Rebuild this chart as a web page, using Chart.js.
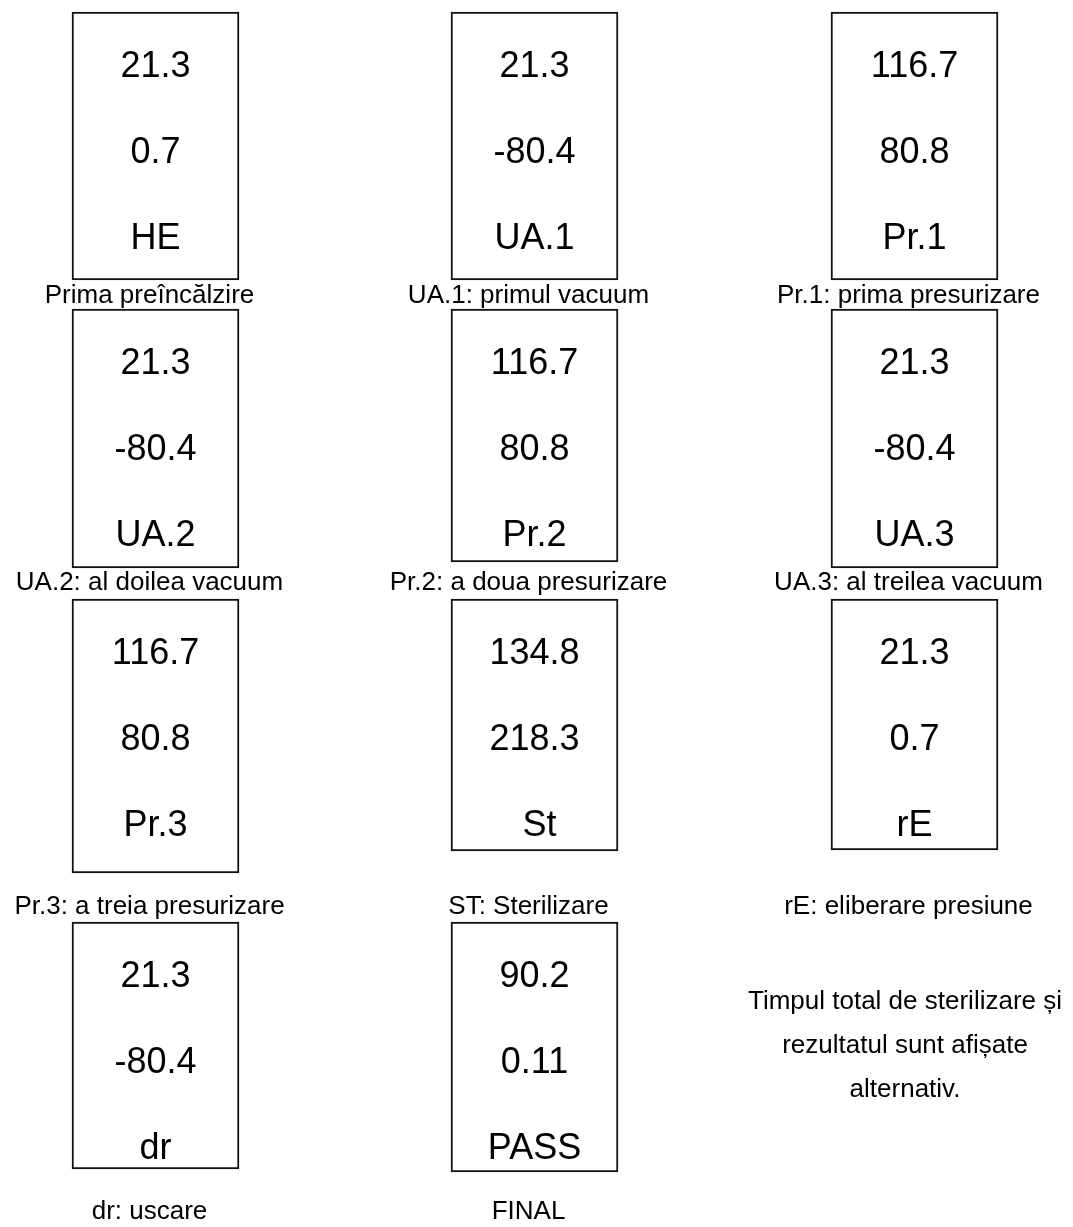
<!DOCTYPE html>
<html lang="ro">
<head>
<meta charset="utf-8">
<title>Afișaj ciclu sterilizare</title>
<script src="https://cdn.jsdelivr.net/npm/chart.js@4.4.0/dist/chart.umd.min.js"></script>
<style>
    html, body { margin: 0; padding: 0; background: #ffffff; }
    #wrap { position: relative; width: 1073px; height: 1227px; }
</style>
</head>
<body>
<div id="wrap"><canvas id="displayChart"></canvas></div>
<script>
// Display readings for each step of the cycle (top line, middle line, code)
const topValues = [21.3, 21.3, 116.7, 21.3, 116.7, 21.3, 116.7, 134.8, 21.3, 21.3, 90.2];
const middleValues = [0.7, -80.4, 80.8, -80.4, 80.8, -80.4, 80.8, 218.3, 0.7, -80.4, 0.11];
const stepCodes = ['HE', 'UA.1', 'Pr.1', 'UA.2', 'Pr.2', 'UA.3', 'Pr.3', ' St', 'rE', 'dr', 'PASS'];
const stepCaptions = [
    'Prima preîncălzire', 'UA.1: primul vacuum', 'Pr.1: prima presurizare',
    'UA.2: al doilea vacuum', 'Pr.2: a doua presurizare', 'UA.3: al treilea vacuum',
    'Pr.3: a treia presurizare', 'ST: Sterilizare', 'rE: eliberare presiune',
    'dr: uscare', 'FINAL'
];
const noteLines = ['Timpul total de sterilizare și', 'rezultatul sunt afișate', 'alternativ.'];

// Layout of the panel grid (in page units, used through the chart scales)
const pageWidth = 1073;
const pageHeight = 1227;
const boxWidth = 167;
const columnCenters = [155.5, 534.5, 914.5];
const stepColumn = [0, 1, 2, 0, 1, 2, 0, 1, 2, 0, 1];
const stepRow = [0, 0, 0, 1, 1, 1, 2, 2, 2, 3, 3];
const rowTops = [12, 309, 599, 922];
const boxBottoms = [280, 280, 280, 568, 562, 568, 873, 851, 850, 1169, 1172];
const captionY = [296, 583, 907, 1212];
const lineOffsets = [55, 141, 227];
const captionShift = -6;
const noteX = 905;
const noteY = [1002, 1046, 1090];

const valueFont = '36px "Liberation Sans", Arial, sans-serif';
const captionFont = '26px "Liberation Sans", Arial, sans-serif';

// Boxes are floating bars: x = column centre, y = [top, bottom]
const boxData = stepCodes.map((code, i) => ({
    x: columnCenters[stepColumn[i]],
    y: [rowTops[stepRow[i]], boxBottoms[i]]
}));

// Writes the readings inside each box and the captions under them
const panelText = {
    id: 'panelText',
    afterDatasetsDraw(chart) {
        const ctx = chart.ctx;
        const xs = chart.scales.x;
        const ys = chart.scales.y;
        ctx.save();
        ctx.fillStyle = '#000000';
        ctx.textAlign = 'center';
        ctx.textBaseline = 'middle';

        stepCodes.forEach((code, i) => {
            const cx = xs.getPixelForValue(columnCenters[stepColumn[i]]);
            const top = rowTops[stepRow[i]];
            const lines = [String(topValues[i]), String(middleValues[i]), code];
            ctx.font = valueFont;
            lines.forEach((txt, k) => {
                ctx.fillText(txt, cx, ys.getPixelForValue(top + lineOffsets[k]));
            });
            ctx.font = captionFont;
            ctx.fillText(stepCaptions[i],
                xs.getPixelForValue(columnCenters[stepColumn[i]] + captionShift),
                ys.getPixelForValue(captionY[stepRow[i]]));
        });

        // note about the final screen
        ctx.font = captionFont;
        noteLines.forEach((txt, k) => {
            ctx.fillText(txt, xs.getPixelForValue(noteX), ys.getPixelForValue(noteY[k]));
        });
        ctx.restore();
    }
};

new Chart(document.getElementById('displayChart'), {
    type: 'bar',
    data: {
        datasets: [{
            label: 'display',
            data: boxData,
            backgroundColor: '#ffffff',
            borderColor: '#111111',
            borderWidth: 2,
            borderSkipped: false,
            barThickness: boxWidth
        }]
    },
    options: {
        responsive: true,
        maintainAspectRatio: false,
        animation: false,
        layout: { padding: 0 },
        plugins: {
            legend: { display: false },
            tooltip: { enabled: false }
        },
        scales: {
            x: { type: 'linear', min: 0, max: pageWidth, offset: false, display: false },
            y: { type: 'linear', min: 0, max: pageHeight, reverse: true, display: false }
        }
    },
    plugins: [panelText]
});
</script>
</body>
</html>
